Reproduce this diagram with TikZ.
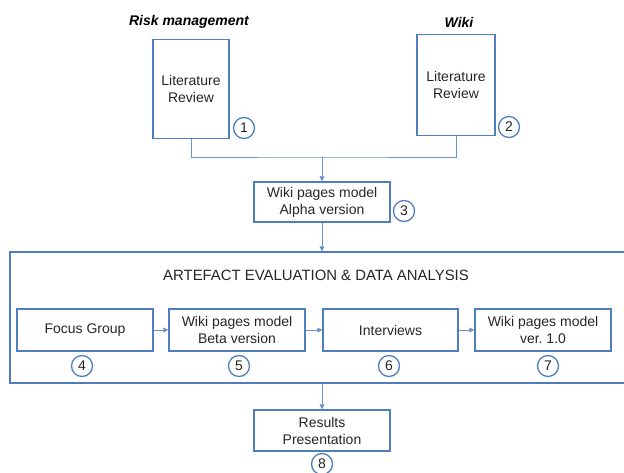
\documentclass[tikz,border=0pt]{standalone}
\usepackage{fontspec}
\setmainfont{Liberation Sans}
\usetikzlibrary{arrows.meta, positioning}
\definecolor{boxblue}{HTML}{4F7EC0}
\definecolor{txtgray}{HTML}{262626}
\newcommand{\boxfont}{\fontsize{14}{17}\selectfont}

\begin{document}
\begin{tikzpicture}[x=1pt, y=-1pt,
    stepbox/.style={draw=boxblue, line width=1.5pt, fill=white, text=txtgray,
        align=center, font=\boxfont, inner sep=0pt},
    numcirc/.style={circle, draw=boxblue, line width=1.3pt, minimum size=21pt,
        inner sep=0pt, text=txtgray, font=\boxfont},
    link/.style={draw=boxblue!85, line width=0.8pt},
    flow/.style={link, -{Triangle[length=5pt, width=5pt]}}]
    \useasboundingbox (0,0) rectangle (624,472);

    % Literature reviews
    \node[font=\boxfont\bfseries\itshape, text=black] (rmhead) at (189,22) {Risk management};
    \node[font=\boxfont\bfseries\itshape, text=black] (wikihead) at (459,22) {Wiki};
    \node[stepbox, minimum width=76pt, minimum height=99pt] (lit1) at (191,89) {Literature\\Review};
    \node[stepbox, minimum width=78pt, minimum height=101pt] (lit2) at (456,85) {Literature\\Review};
    \node[numcirc] (n1) at (244,128) {1};
    \node[numcirc] (n2) at (509,127) {2};

    % Alpha version
    \coordinate (join) at (322,157);
    \node[stepbox, minimum width=136pt, minimum height=40pt] (alpha) at (322,202) {Wiki pages model\\Alpha version};
    \node[numcirc] (n3) at (404,211) {3};
    \draw[link] (lit1.south) |- (join) -| (lit2.south);
    \draw[flow] (join) -- (alpha.north);

    % Evaluation frame
    \node[draw=boxblue, line width=1.5pt, minimum width=618pt, minimum height=131pt] (eval) at (319,317.5) {};
    \node[text=txtgray, font=\fontsize{14.9}{18}\selectfont] (evaltitle) at (316,275) {ARTEFACT EVALUATION \& DATA ANALYSIS};
    \draw[flow] (alpha.south) -- (alpha.south |- eval.north);

    % Evaluation steps
    \node[stepbox, minimum width=136pt, minimum height=42pt] (focus) at (85,330) {Focus Group};
    \node[stepbox, minimum width=136pt, minimum height=42pt] (beta) at (237,330) {Wiki pages model\\Beta version};
    \node[stepbox, minimum width=135pt, minimum height=42pt] (interv) at (390.5,330) {Interviews};
    \node[stepbox, minimum width=136pt, minimum height=42pt] (final) at (543,330) {Wiki pages model\\ver.\ 1.0};
    \node[numcirc] (n4) at (82,366) {4};
    \node[numcirc] (n5) at (239,366) {5};
    \node[numcirc] (n6) at (389,366) {6};
    \node[numcirc] (n7) at (548,366) {7};
    \draw[flow] (focus) -- (beta);
    \draw[flow] (beta) -- (interv);
    \draw[flow] (interv) -- (final);

    % Results
    \node[stepbox, minimum width=136pt, minimum height=41pt] (results) at (322,430.5) {Results\\Presentation};
    \node[numcirc] (n8) at (322,464) {8};
    \draw[flow] (results.north |- eval.south) -- (results.north);
\end{tikzpicture}
\end{document}
